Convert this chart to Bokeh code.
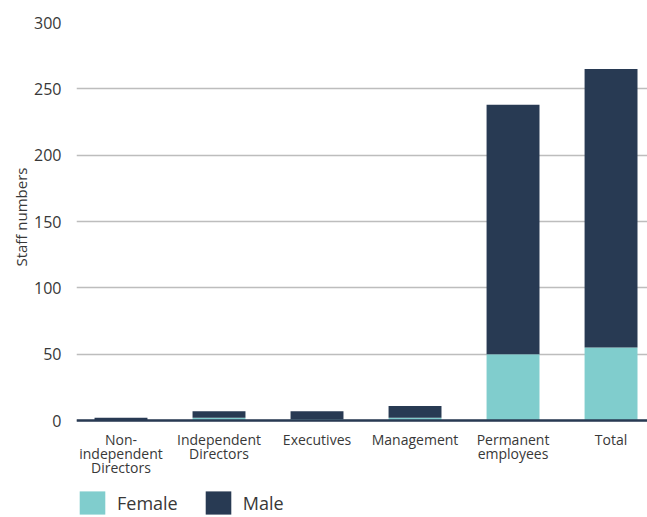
from bokeh.plotting import figure
from bokeh.models import ColumnDataSource, FixedTicker, Range1d, Legend, Span, Title
from bokeh.core.properties import value
from bokeh.embed import file_html
from bokeh.resources import INLINE

categories = ["Non-\nindependent\nDirectors", "Independent\nDirectors", "Executives",
              "Management", "Permanent\nemployees", "Total"]
female = [0, 2, 1, 2, 50, 55]
male = [2, 5, 6, 9, 188, 210]
y_ticks = [0, 50, 100, 150, 200, 250, 300]

FEMALE_C = "#80cdcd"
MALE_C = "#283a53"
TEXT_C = "#383838"
FONT = "Open Sans"

W, H = 647, 517
LEFT, TOP = 76, 22
AXIS_PX = 420            # pixel row of the zero line
Y_MAX = 300
px_per_unit = (AXIS_PX - TOP) / Y_MAX
y_min = -(H - AXIS_PX) / px_per_unit

xs = list(range(len(categories)))
src = ColumnDataSource(dict(x=xs, Female=female, Male=male))

p = figure(width=W, height=H, output_backend="svg", toolbar_location=None,
           x_range=Range1d(-0.454, 5.372), y_range=Range1d(y_min, Y_MAX),
           x_axis_location=None,
           min_border_left=LEFT, min_border_top=TOP, min_border_right=0, min_border_bottom=0)

r = p.vbar_stack(["Female", "Male"], x="x", width=0.54, source=src,
                 color=[FEMALE_C, MALE_C], line_color=None)

p.outline_line_color = None
p.xgrid.grid_line_color = None
p.ygrid.grid_line_color = "#bdbdbd"
p.ygrid.grid_line_width = 1.5
p.ygrid.ticker = FixedTicker(ticks=y_ticks)

p.yaxis.ticker = FixedTicker(ticks=y_ticks)
p.yaxis.axis_line_color = None
p.yaxis.major_tick_line_color = None
p.yaxis.minor_tick_line_color = None
p.yaxis.major_label_standoff = 9
p.yaxis.major_label_text_font = FONT
p.yaxis.major_label_text_font_size = "16px"
p.yaxis.major_label_text_color = TEXT_C

# y-axis title: its top end placed so the text is centred near the middle of 0..300
ytitle = Title(text="Staff numbers", align="right", offset=145,
               text_font=FONT, text_font_size="15px", text_font_style="normal",
               text_color=TEXT_C, standoff=2)
p.add_layout(ytitle, "left")

# zero line (x axis line)
p.add_layout(Span(location=0, dimension="width", line_color=MALE_C, line_width=2.5))

# category labels below the zero line
label_y = -9 / px_per_unit
lab_src = ColumnDataSource(dict(x=xs, y=[label_y] * len(xs), text=categories))
p.text(x="x", y="y", text="text", source=lab_src, text_align="center",
       text_baseline="top", text_font=value(FONT), text_font_size="14px",
       text_color=TEXT_C, text_line_height=0.76)

legend = Legend(items=[("Female", [r[0]]), ("Male", [r[1]])],
                orientation="horizontal", location=(0, 0),
                glyph_width=32, glyph_height=29, label_standoff=9, spacing=24,
                padding=0, margin=0, border_line_color=None, background_fill_alpha=0,
                label_text_font=FONT, label_text_font_size="18px",
                label_text_color=TEXT_C, label_text_baseline="hanging")
p.add_layout(legend, "center")

open("out.html", "w").write(file_html(p, INLINE))
